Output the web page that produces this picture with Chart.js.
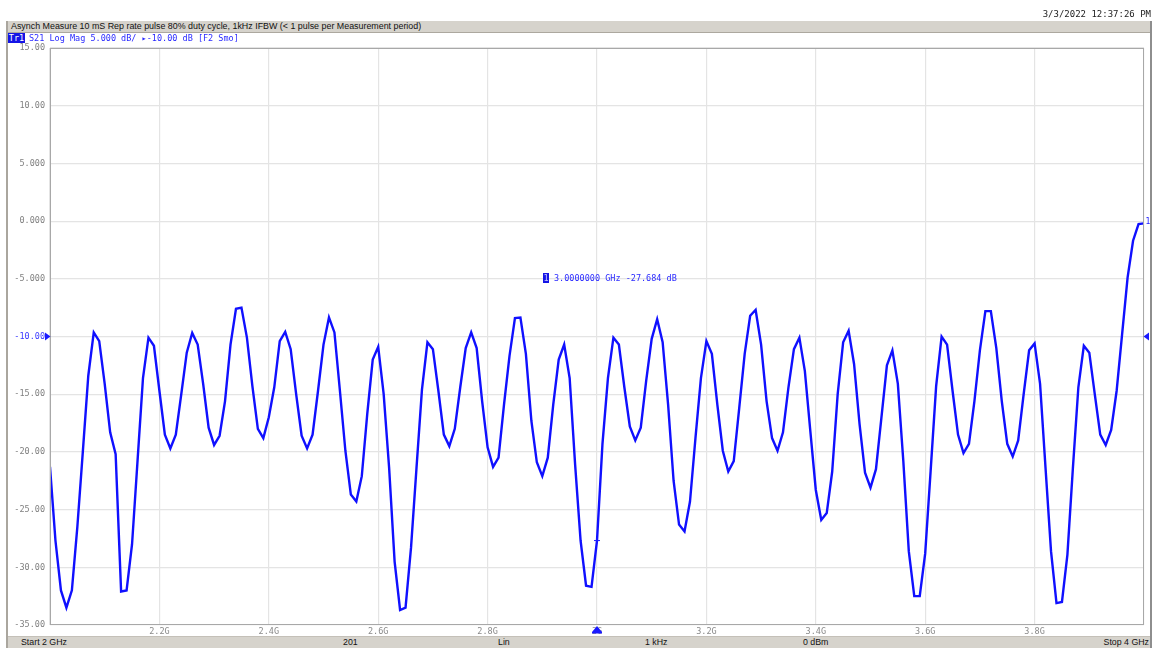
<!DOCTYPE html>
<html>
<head>
<meta charset="utf-8">
<title>S21 Log Mag</title>
<script src="https://cdn.jsdelivr.net/npm/chart.js@4.4.1/dist/chart.umd.min.js"></script>
<style>
  html, body { margin: 0; padding: 0; background: #ffffff; }
  #screen { position: relative; width: 1152px; height: 648px; overflow: hidden; background: #ffffff; }
  #plot { position: absolute; left: 0; top: 0; z-index: 0; }
  .mono { font-family: 'DejaVu Sans Mono', 'Liberation Mono', monospace; white-space: pre; }
  .ui { font-family: 'Liberation Sans', 'DejaVu Sans', sans-serif; white-space: pre; }
  .abs { position: absolute; z-index: 1; }
  #stamp { right: 1px; top: 9px; font-size: 9px; line-height: 10px; color: #222222; }
  #frameL { left: 6px; top: 21px; width: 2px; height: 627px; background: #aaa69e; }
  #frameR { left: 1150px; top: 21px; width: 2px; height: 627px; background: #8e8e8e; }
  #titlebar { left: 8px; top: 21px; width: 1142px; height: 11px; background: #d6d3cc; border-bottom: 1px solid #aca89f; }
  #titletext { left: 3px; top: 0px; font-size: 8.9px; line-height: 11px; color: #111111; }
  #trTag { left: 8px; top: 33px; width: 17px; height: 10px; background: #1414e6; color: #ffffff; font-size: 8.5px; line-height: 10px; text-align: center; }
  #trText { left: 29px; top: 33px; font-size: 8.5px; line-height: 10px; color: #2a2aff; }
  #statusbar { left: 8px; top: 636px; width: 1142px; height: 12px; background: #d6d3cc; border-top: 1px solid #c4c0b8; }
  .st { top: 0px; font-size: 8.8px; line-height: 11px; color: #111111; }
  #readout { left: 543px; top: 273px; font-size: 8.5px; line-height: 10px; color: #2a2aff; }
  #readTag { display: inline-block; width: 6px; height: 10px; background: #1414e6; color: #c8c8ff; text-align: center; margin-right: 5px; vertical-align: top; }
</style>
</head>
<body>
<div id="screen">
  <canvas id="plot" width="1152" height="648"></canvas>

  <div id="stamp" class="abs mono">3/3/2022 12:37:26 PM</div>
  <div id="frameL" class="abs"></div>
  <div id="frameR" class="abs"></div>
  <div id="titlebar" class="abs">
    <div id="titletext" class="abs ui">Asynch Measure 10 mS Rep rate pulse 80% duty cycle, 1kHz IFBW (&lt; 1 pulse per Measurement period)</div>
  </div>
  <div id="trTag" class="abs mono">Tr1</div>
  <div id="trText" class="abs mono">S21 Log Mag 5.000 dB/ &#9656;-10.00 dB [F2 Smo]</div>
  <div id="readout" class="abs mono"><span id="readTag">1</span><span id="readText"></span></div>

  <div id="statusbar" class="abs">
    <div class="abs ui st" id="stStart" style="left:13px;">Start 2 GHz</div>
    <div class="abs ui st" id="stPts" style="left:335px;">201</div>
    <div class="abs ui st" id="stSweep" style="left:490px;">Lin</div>
    <div class="abs ui st" id="stIfbw" style="left:637px;">1 kHz</div>
    <div class="abs ui st" id="stPower" style="left:795px;">0 dBm</div>
    <div class="abs ui st" id="stStop" style="right:1px;">Stop 4 GHz</div>
  </div>
</div>

<script>
// Sweep setup: 201 points, linear from 2 GHz to 4 GHz
const sweepStartGHz = 2.0;
const sweepStopGHz = 4.0;
const sweepPoints = 201;

// S21 magnitude (dB), one value per sweep point
const s21Db = [
  -21.3, -27.7, -32.0, -33.5, -32.0, -26.5, -20.0, -13.4, -9.65, -10.4,
  -14.1, -18.3, -20.2, -32.1, -32.0, -28.0, -20.8, -13.6, -10.1, -10.8,
  -14.7, -18.5, -19.7, -18.5, -15.0, -11.4, -9.7, -10.7, -14.1, -17.9,
  -19.4, -18.6, -15.6, -10.7, -7.6, -7.5, -10.1, -14.3, -18.0, -18.8,
  -17.0, -14.4, -10.4, -9.6, -11.1, -15.0, -18.6, -19.7, -18.5, -14.7,
  -10.7, -8.35, -9.65, -14.7, -19.9, -23.7, -24.3, -22.1, -16.7, -12.0,
  -10.9, -15.0, -21.4, -29.5, -33.7, -33.5, -28.3, -21.4, -14.6, -10.5,
  -11.1, -14.7, -18.5, -19.5, -18.0, -14.4, -11.0, -9.65, -11.0, -15.6,
  -19.6, -21.3, -20.5, -15.9, -11.7, -8.4, -8.35, -11.5, -17.3, -20.9,
  -22.1, -20.5, -15.9, -12.0, -10.7, -13.6, -21.1, -27.7, -31.6, -31.7,
  -27.684, -19.3, -13.6, -10.1, -10.7, -14.4, -17.8, -19.0, -17.9, -13.8,
  -10.2, -8.5, -10.5, -15.9, -22.5, -26.3, -26.9, -24.3, -18.8, -13.6,
  -10.4, -11.5, -15.9, -19.9, -21.7, -20.8, -16.2, -11.5, -8.2, -7.7,
  -10.7, -15.6, -18.8, -19.9, -18.3, -14.4, -11.1, -10.1, -13.0, -18.2,
  -23.3, -25.9, -25.3, -21.7, -15.0, -10.5, -9.5, -12.4, -17.6, -21.8,
  -23.1, -21.5, -17.0, -12.5, -11.2, -14.1, -20.8, -28.6, -32.5, -32.5,
  -28.8, -21.6, -14.3, -10.0, -10.7, -14.7, -18.5, -20.1, -19.3, -15.6,
  -11.2, -7.8, -7.8, -11.0, -15.6, -19.3, -20.4, -19.0, -15.0, -11.2,
  -10.6, -14.1, -21.4, -28.6, -33.1, -33.0, -28.9, -21.4, -14.4, -10.8,
  -11.4, -15.0, -18.5, -19.4, -18.1, -14.7, -9.8, -4.9, -1.7, -0.26,
  -0.2
];

// Graticule: 10 divisions each way
const freqGridGHz = [2.0, 2.2, 2.4, 2.6, 2.8, 3.0, 3.2, 3.4, 3.6, 3.8, 4.0];
const freqTickText = ['', '2.2G', '2.4G', '2.6G', '2.8G', '3G', '3.2G', '3.4G', '3.6G', '3.8G', ''];
const dbGrid = [15, 10, 5, 0, -5, -10, -15, -20, -25, -30, -35];
const dbTickText = ['15.00', '10.00', '5.000', '0.000', '-5.000', '-10.00', '-15.00', '-20.00', '-25.00', '-30.00', '-35.00'];

const refLevelDb = -10;
const markerIndex = 100;

const stepGHz = (sweepStopGHz - sweepStartGHz) / (sweepPoints - 1);
const tracePoints = s21Db.map((v, i) => ({ x: sweepStartGHz + i * stepGHz, y: v }));
const markerFreqGHz = tracePoints[markerIndex].x;
const markerDb = s21Db[markerIndex];

document.getElementById('readText').textContent =
  markerFreqGHz.toFixed(7) + ' GHz ' + markerDb.toFixed(3) + ' dB';

const traceBlue = '#1010ff';
const annBlue = '#1a1aff';
const monoFont = { family: "'DejaVu Sans Mono', 'Liberation Mono', monospace", size: 8.5 };

// Frame, reference arrows, marker and trace tag drawn on top of the plot
const analyzerOverlay = {
  id: 'analyzerOverlay',
  afterDraw(chart) {
    const { ctx, chartArea: a } = chart;
    const xs = chart.scales.x, ys = chart.scales.y;
    ctx.save();

    ctx.strokeStyle = '#a8a8a8';
    ctx.lineWidth = 1;
    ctx.strokeRect(Math.round(a.left) + 0.5, Math.round(a.top) + 0.5,
                   Math.round(a.width) - 1, Math.round(a.height) - 1);

    // reference level arrows on both sides
    const yr = ys.getPixelForValue(refLevelDb);
    ctx.fillStyle = annBlue;
    ctx.beginPath();
    ctx.moveTo(a.left - 5, yr - 4); ctx.lineTo(a.left - 5, yr + 4); ctx.lineTo(a.left + 0.5, yr);
    ctx.closePath(); ctx.fill();
    ctx.beginPath();
    ctx.moveTo(a.right + 5, yr - 4); ctx.lineTo(a.right + 5, yr + 4); ctx.lineTo(a.right - 0.5, yr);
    ctx.closePath(); ctx.fill();

    // marker 1 on the trace
    const mx = xs.getPixelForValue(markerFreqGHz);
    const my = ys.getPixelForValue(markerDb);
    ctx.strokeStyle = annBlue;
    ctx.lineWidth = 1;
    ctx.beginPath();
    ctx.moveTo(mx - 3, my); ctx.lineTo(mx + 3, my);
    ctx.moveTo(mx, my - 3); ctx.lineTo(mx, my + 3);
    ctx.stroke();

    // marker stimulus arrow under the graticule
    ctx.fillStyle = annBlue;
    ctx.beginPath();
    ctx.moveTo(mx - 5, a.bottom + 7); ctx.lineTo(mx + 5, a.bottom + 7); ctx.lineTo(mx, a.bottom + 1);
    ctx.closePath(); ctx.fill();
    ctx.fillRect(mx - 5, a.bottom + 7, 10, 1.5);

    // trace end tag
    const last = tracePoints[tracePoints.length - 1];
    ctx.font = "8px 'DejaVu Sans Mono', monospace";
    ctx.textAlign = 'left';
    ctx.textBaseline = 'middle';
    ctx.fillText('1', xs.getPixelForValue(last.x) + 1.5, ys.getPixelForValue(last.y) - 1);

    ctx.restore();
  }
};

new Chart(document.getElementById('plot'), {
  type: 'line',
  data: {
    datasets: [{
      data: tracePoints,
      borderColor: traceBlue,
      borderWidth: 2.4,
      pointRadius: 0,
      tension: 0,
      fill: false,
      borderJoinStyle: 'miter'
    }]
  },
  options: {
    responsive: false,
    animation: false,
    events: [],
    layout: { padding: { left: 0, top: 48, right: 8, bottom: 12 } },
    plugins: { legend: { display: false }, tooltip: { enabled: false } },
    scales: {
      x: {
        type: 'linear',
        min: sweepStartGHz,
        max: sweepStopGHz,
        afterBuildTicks(scale) { scale.ticks = freqGridGHz.map(v => ({ value: v })); },
        afterFit(scale) { scale.height = 11; },
        grid: { color: '#e4e4e4', lineWidth: 1.2, drawTicks: false },
        border: { display: false },
        ticks: {
          autoSkip: false,
          maxRotation: 0,
          padding: 2,
          color: '#8a8a8a',
          font: monoFont,
          callback: (v, i) => freqTickText[i]
        }
      },
      y: {
        type: 'linear',
        min: -35,
        max: 15,
        afterBuildTicks(scale) { scale.ticks = dbGrid.map(v => ({ value: v })); },
        afterFit(scale) { scale.width = 50; },
        grid: { color: '#e4e4e4', lineWidth: 1.2, drawTicks: false },
        border: { display: false },
        ticks: {
          autoSkip: false,
          padding: 5,
          font: monoFont,
          color: (c) => (c.tick && c.tick.value === refLevelDb) ? '#3a3aff' : '#808080',
          callback: (v) => dbTickText[dbGrid.indexOf(v)]
        }
      }
    }
  },
  plugins: [analyzerOverlay]
});
</script>
</body>
</html>
